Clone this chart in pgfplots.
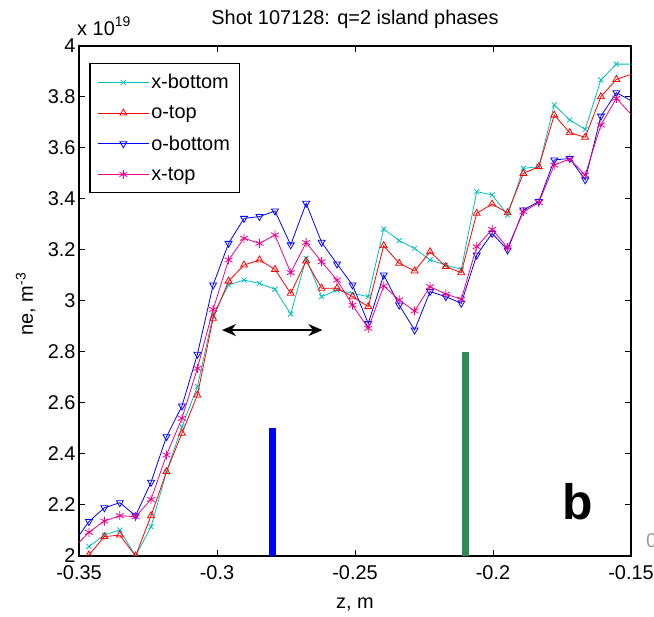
\documentclass[border=0pt]{standalone}
\usepackage{fontspec}
\setmainfont{Liberation Sans}
\usepackage{pgfplots}
\pgfplotsset{compat=1.18}
\usepackage{pgfplotstable}
\usetikzlibrary{arrows.meta,calc}

\definecolor{mcyan}{rgb}{0,0.75,0.75}
\definecolor{mgreen}{RGB}{46,139,87}

\pgfplotstableread{
x        xb     ot     ob     xt
-0.3520  nan    nan    2.050  2.030
-0.3464  2.037  2.004  2.135  2.093
-0.3408  2.082  2.076  2.189  2.137
-0.3352  2.102  2.082  2.209  2.158
-0.3295  2.000  2.000  2.158  2.154
-0.3239  2.115  2.158  2.289  2.222
-0.3183  2.330  2.331  2.468  2.396
-0.3127  2.507  2.481  2.588  2.540
-0.3071  2.664  2.631  2.791  2.736
-0.3014  2.945  2.932  3.063  2.967
-0.2958  3.063  3.078  3.226  3.161
-0.2902  3.082  3.141  3.324  3.246
-0.2846  3.069  3.161  3.331  3.226
-0.2790  3.046  3.124  3.353  3.259
-0.2733  2.949  3.030  3.220  3.111
-0.2677  3.167  3.157  3.383  3.229
-0.2621  3.017  3.050  3.230  3.154
-0.2565  3.043  3.050  3.145  3.082
-0.2509  3.030  3.017  3.063  2.984
-0.2452  3.017  2.978  2.912  2.893
-0.2396  3.282  3.217  3.102  3.059
-0.2340  3.237  3.148  2.984  3.004
-0.2284  3.206  3.118  2.886  2.961
-0.2228  3.161  3.193  3.037  3.056
-0.2171  3.141  3.135  3.017  3.027
-0.2115  3.124  3.111  2.991  3.007
-0.2059  3.429  3.344  3.180  3.213
-0.2003  3.416  3.380  3.265  3.281
-0.1947  3.337  3.346  3.200  3.209
-0.1890  3.520  3.500  3.357  3.350
-0.1834  3.527  3.527  3.390  3.386
-0.1778  3.769  3.729  3.553  3.533
-0.1722  3.710  3.660  3.559  3.557
-0.1666  3.673  3.642  3.475  3.494
-0.1609  3.867  3.801  3.725  3.690
-0.1553  3.929  3.869  3.817  3.795
-0.1497  3.929  3.890  3.784  3.729
}\data

\begin{document}
\begin{tikzpicture}
\begin{axis}[
  scale only axis, width=552bp, height=510bp,
  xmin=-0.35, xmax=-0.15, ymin=2, ymax=4,
  xtick={-0.35,-0.3,-0.25,-0.2,-0.15},
  xticklabels={-0.35,-0.3,-0.25,-0.2,-0.15},
  ytick={2,2.2,2.4,2.6,2.8,3,3.2,3.4,3.6,3.8,4},
  yticklabels={2,2.2,2.4,2.6,2.8,3,3.2,3.4,3.6,3.8,4},
  tick align=inside, major tick length=6bp,
  tick style={black, line width=1bp},
  axis line style={line width=1.3bp},
  ticklabel style={font=\fontsize{20}{24}\selectfont},
  xticklabel style={yshift=-6bp},
  clip marker paths=true,
  legend cell align=left,
  legend image code/.code={\draw[mark repeat=2,mark phase=2,#1] plot coordinates {(0bp,0bp) (25.5bp,0bp) (51bp,0bp)};},
  legend style={at={(0.0187,0.967)}, anchor=north west, draw=black, line width=1.3bp,
    font=\fontsize{20}{24}\selectfont, row sep=11.5bp, inner xsep=7.5bp, inner ysep=9bp,
    nodes={inner sep=2bp}},
]
\addplot[mcyan, line width=0.8bp, mark=x, mark size=3.5bp, mark options={line width=0.8bp}] table[x=x, y=xb] {\data};
\addlegendentry{x-bottom}
\addplot[red, line width=0.8bp, mark=triangle, mark size=4bp, mark options={line width=0.8bp}] table[x=x, y=ot] {\data};
\addlegendentry{o-top}
\addplot[blue, line width=0.8bp, mark=triangle, mark size=4bp, mark options={line width=0.8bp, rotate=180}] table[x=x, y=ob] {\data};
\addlegendentry{o-bottom}
\addplot[magenta, line width=0.8bp, mark=asterisk, mark size=4.5bp, mark options={line width=0.8bp}] table[x=x, y=xt] {\data};
\addlegendentry{x-top}
\addplot[blue, line width=7bp, forget plot] coordinates {(-0.28,2) (-0.28,2.5)};
\addplot[mgreen, line width=7bp, forget plot] coordinates {(-0.21,2) (-0.21,2.8)};
\draw[line width=1.5bp, {Stealth[length=14bp,width=12bp]}-{Stealth[length=14bp,width=12bp]}] (axis cs:-0.2982,2.886) -- (axis cs:-0.2618,2.886);
\node[font=\bfseries\fontsize{50}{50}\selectfont] at (axis cs:-0.1692,2.212) {b};
\end{axis}
\node[anchor=base, font=\fontsize{20}{24}\selectfont] at ($(current axis.north)+(0,21bp)$) {Shot 107128: q=2 island phases};
\node[anchor=base west, inner sep=0pt, font=\fontsize{20}{24}\selectfont] at ($(current axis.north west)+(-2bp,10bp)$) {x 10\raisebox{9bp}{\fontsize{14}{14}\selectfont 19}};
\node[anchor=base, inner sep=0pt, font=\fontsize{20}{24}\selectfont] at ($(current axis.south)+(0,-52bp)$) {z, m};
\node[anchor=base, rotate=90, inner sep=0pt, font=\fontsize{20}{24}\selectfont] at ($(current axis.south west)+(-46bp,252bp)$) {ne, m\textsuperscript{-3}};
\node[anchor=west, inner sep=0pt, text=black!40, font=\fontsize{20}{24}\selectfont] at ($(current axis.south east)+(15bp,15bp)$) {0};
\pgfresetboundingbox
\path[use as bounding box] ($(current axis.south west)+(-79bp,-61bp)$) rectangle ++(654bp,617bp);
\end{tikzpicture}
\end{document}
